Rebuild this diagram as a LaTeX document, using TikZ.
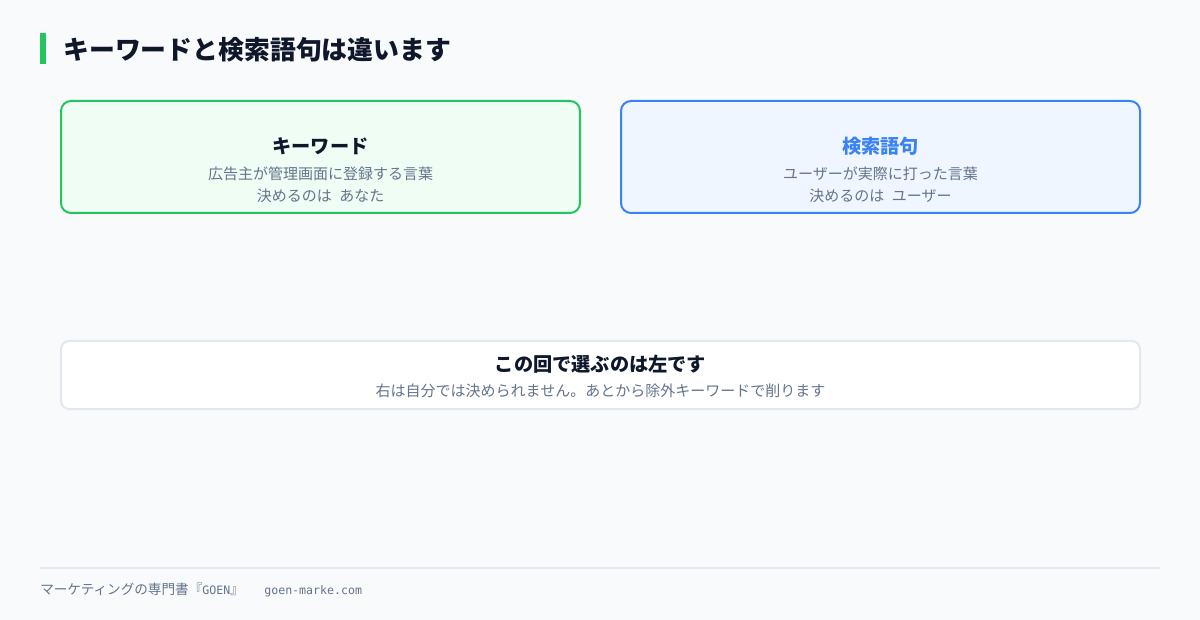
\documentclass[tikz,border=0pt]{standalone}
\usepackage{fontspec}
\setmainfont{Noto Sans CJK JP}
\newfontfamily\monof{DejaVu Sans Mono}
\definecolor{bg}{HTML}{F8FAFC}
\definecolor{navy}{HTML}{0F172A}
\definecolor{grn}{HTML}{22C55E}
\definecolor{grnfill}{HTML}{F0FDF4}
\definecolor{blu}{HTML}{3B82F6}
\definecolor{blufill}{HTML}{EFF6FF}
\definecolor{slate}{HTML}{64748B}
\definecolor{lightline}{HTML}{E2E8F0}
\tikzset{
  card/.style={rounded corners=7.5pt, line width=1.5pt},
  cardtitle/.style={font=\fontsize{14.4}{17}\selectfont\bfseries, text=navy, inner sep=0pt},
  cardsub/.style={font=\fontsize{11.25}{13}\selectfont, text=slate, inner sep=0pt},
}
\begin{document}
\begin{tikzpicture}[x=0.75pt,y=-0.75pt]
\fill[bg] (0,0) rectangle (1200,620);
\useasboundingbox (0,0) rectangle (1200,620);
% title
\fill[grn] (40,33) rectangle (46,64);
\node[anchor=west, inner sep=0pt, font=\fontsize{19.4}{23}\selectfont\bfseries, text=navy] (title) at (63,50) {キーワードと検索語句は違います};
% left card
\draw[card, draw=grn, fill=grnfill] (61,101) rectangle (580,213);
\node[cardtitle] (kwt) at (320.5,146) {キーワード};
\node[cardsub] (kws1) at (320.5,174) {広告主が管理画面に登録する言葉};
\node[cardsub] (kws2) at (320.5,196) {決めるのは\hspace{0.5em}あなた};
% right card
\draw[card, draw=blu, fill=blufill] (621,101) rectangle (1140,213);
\node[cardtitle, text=blu] (sqt) at (880.5,146) {検索語句};
\node[cardsub] (sqs1) at (880.5,174) {ユーザーが実際に打った言葉};
\node[cardsub] (sqs2) at (880.5,196) {決めるのは\hspace{0.5em}ユーザー};
% bottom card
\draw[card, draw=lightline, fill=white, rounded corners=6pt] (61,341) rectangle (1140,409);
\node[cardtitle] (bt) at (600.5,364) {この回で選ぶのは左です};
\node[cardsub] (bs) at (600.5,391) {右は自分では決められません。あとから除外キーワードで削ります};
% footer
\draw[lightline, line width=1.2pt] (40,568) -- (1160,568);
\node[anchor=west, inner sep=0pt, text=slate, font=\fontsize{10.2}{12}\selectfont] (foot) at (40,590) {マーケティングの専門書『{\monof\fontsize{8.7}{12}\selectfont GOEN}』\hspace{1.5em}{\monof\fontsize{8.7}{12}\selectfont goen-marke.com}};
\end{tikzpicture}
\end{document}
